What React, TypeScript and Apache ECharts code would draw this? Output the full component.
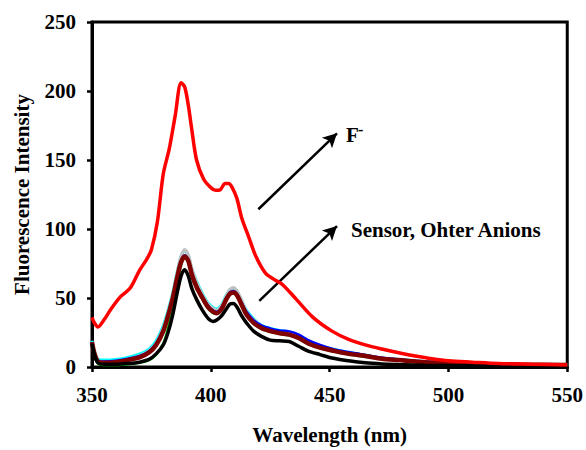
import React, { useEffect, useRef } from "react";
import * as echarts from "echarts";

const redWavelengths = [350, 351, 352.5, 355, 358, 362, 366, 370, 373, 375, 377.5, 380, 382.5, 385, 387.5, 389, 390.5, 392, 394, 397, 400, 402, 404, 406, 407.5, 409, 411, 413, 416, 419, 423, 427, 430, 436, 443, 451, 458, 465, 472, 480, 486, 493, 500, 510, 521, 535, 550];
const redValues = [36, 32, 29, 34, 42, 51, 57, 70, 78, 85, 105, 140, 158, 182, 206, 203, 190, 172, 150, 136, 130, 128, 128.5, 133, 133, 130, 122, 108, 94, 80, 68, 63, 60, 49, 36, 26, 20, 16, 13, 10, 8, 6, 4.5, 3.5, 2.5, 2, 1.5];

const wavelengths = [350, 351, 352.5, 355, 360, 365, 370, 374, 377, 380, 382, 384, 386, 387.5, 389, 390.5, 392, 394, 396.5, 399, 401, 402.5, 404.5, 406.5, 408, 409.5, 411, 413, 415, 418, 421.5, 425, 429, 433, 437, 441, 446, 451, 458, 465, 472, 479, 490, 500, 515, 530, 550];
const maroonValues = [18, 10, 4, 3, 3.5, 5, 7, 10.5, 16, 26, 37, 50, 66, 76, 80, 77, 67, 58, 50, 43, 40, 39, 42, 49, 53, 54, 52, 45, 38, 32, 28, 26, 24.5, 23.5, 21, 17, 14, 12, 9.5, 8, 6, 5, 3.5, 3, 2.2, 1.8, 1.5];
const blackValues = [17, 9, 3, 2, 2, 2.5, 3.5, 5.5, 9.5, 16, 25, 38, 55, 66, 70.5, 66, 57, 49, 41, 35, 33, 34, 37, 42, 45.5, 46, 43.5, 37, 32, 26, 22, 19.5, 19, 18.5, 15, 11.5, 9, 6.5, 4.5, 3, 2.2, 1.8, 1.3, 1, 0.9, 0.8, 0.7];
const cyanValues = [19, 11, 5.5, 5, 5.5, 7, 9.5, 13, 19, 30, 41, 54, 70, 80, 84, 81, 71, 62, 53, 46, 43, 42, 45, 52, 56, 57, 55, 48, 41, 35, 30, 28, 26.5, 25.5, 23, 19, 15.5, 13, 10.5, 8.5, 6.5, 5.5, 4, 3.2, 2.4, 2, 1.7];
const silverValues = [18, 10, 4, 3.5, 4, 5.5, 8, 11.5, 17, 28, 39, 52, 69, 80, 85, 81, 71, 61, 52, 45, 42, 41, 44, 51, 56, 57.5, 55, 48, 40, 34, 29.5, 27, 25.5, 24.5, 22, 18, 15, 12.5, 10, 8.3, 6.3, 5.2, 3.8, 3.1, 2.3, 1.9, 1.6];
const greenValues = [17, 8, 2.5, 1.5, 1.5, 2, 3, 5, 9, 17, 28, 44, 62, 74, 79, 76, 66, 57, 49, 42, 39, 38.5, 41.5, 48.5, 52.5, 53.5, 51.5, 44.5, 37.5, 31.5, 27.5, 25.5, 24, 23, 20.5, 16.5, 13.5, 11.5, 9, 7.5, 5.8, 4.8, 3.4, 2.9, 2.1, 1.7, 1.4];
const blueValues = [18, 10, 4.5, 4, 4.5, 6, 8, 11.5, 17, 27, 38, 51, 67, 77, 81, 78, 68, 59, 51, 44, 41, 40, 43, 50, 54, 55, 53, 46.5, 40, 34, 30, 28, 26.5, 25.8, 23.5, 19.5, 16, 13.3, 10.8, 8.7, 6.7, 5.6, 4, 3.3, 2.4, 2, 1.7];

const xTicks = [350, 400, 450, 500, 550];
const yTicks = [0, 50, 100, 150, 200, 250];

const arrowF = [[420, 114.3], [453.1, 169.3]];
const arrowOthers = [[420.4, 47.9], [453.1, 102.1]];
const labelFPos = [456.9, 167.9];
const labelOthersPos = [459, 99.3];

const FONT = "'Liberation Serif', 'Times New Roman', serif";

function pairs(xs: number[], ys: number[]) {
  return xs.map((x, i) => [x, ys[i]]);
}

export default function App() {
  const ref = useRef<HTMLDivElement>(null);
  useEffect(() => {
    if (!ref.current) return;
    const chart = echarts.init(ref.current, undefined, { renderer: "svg" });
    const line = (name: string, xs: number[], ys: number[], color: string, width: number, z: number) => ({
      name,
      type: "line",
      data: pairs(xs, ys),
      showSymbol: false,
      smooth: 0.3,
      z,
      lineStyle: { color, width },
      itemStyle: { color },
    });
    const arrow = (pts: number[][]) => ({
      type: "line",
      data: [],
      markLine: {
        silent: true,
        symbol: ["none", "arrow"],
        symbolSize: [11, 14],
        label: { show: false },
        lineStyle: { color: "#000", width: 2.5, type: "solid" },
        data: [[{ coord: pts[0] }, { coord: pts[1] }]],
      },
    });
    chart.setOption({
      animation: false,
      backgroundColor: "#fff",
      grid: {
        left: 92,
        right: 17,
        top: 22,
        bottom: 78,
        show: true,
        borderColor: "#000",
        borderWidth: 3,
      },
      xAxis: {
        type: "value",
        min: xTicks[0],
        max: xTicks[xTicks.length - 1],
        interval: 50,
        name: "Wavelength (nm)",
        nameLocation: "middle",
        nameGap: 57,
        nameTextStyle: { fontFamily: FONT, fontWeight: "bold", fontSize: 21, color: "#000" },
        axisLine: { lineStyle: { color: "#000", width: 3 } },
        axisTick: { show: true, length: 5, lineStyle: { color: "#000", width: 2.5 } },
        axisLabel: { fontFamily: FONT, fontWeight: "bold", fontSize: 21, color: "#000", margin: 17 },
        splitLine: { show: false },
      },
      yAxis: {
        type: "value",
        min: yTicks[0],
        max: yTicks[yTicks.length - 1],
        interval: 50,
        name: "Fluorescence Intensity",
        nameLocation: "middle",
        nameGap: 60,
        nameTextStyle: { fontFamily: FONT, fontWeight: "bold", fontSize: 21, color: "#000" },
        axisLine: { lineStyle: { color: "#000", width: 3 } },
        axisTick: { show: true, length: 5, lineStyle: { color: "#000", width: 2.5 } },
        axisLabel: { fontFamily: FONT, fontWeight: "bold", fontSize: 21, color: "#000", margin: 16 },
        splitLine: { show: false },
      },
      series: [
        line("Cyan", wavelengths, cyanValues, "#00ffff", 3, 2),
        line("Silver", wavelengths, silverValues, "#c0c0c0", 3.5, 3),
        line("Blue", wavelengths, blueValues, "#0000ff", 2.5, 4),
        line("Green", wavelengths, greenValues, "#00dd00", 2.5, 5),
        line("Sensor", wavelengths, maroonValues, "#800000", 4.5, 6),
        line("Black", wavelengths, blackValues, "#000000", 3.5, 7),
        line("F-", redWavelengths, redValues, "#ff0000", 3.5, 8),
        arrow(arrowF),
        arrow(arrowOthers),
      ],
    });
    const pF = chart.convertToPixel({ gridIndex: 0 }, labelFPos) as number[];
    const pO = chart.convertToPixel({ gridIndex: 0 }, labelOthersPos) as number[];
    const ts = { fontFamily: FONT, fontWeight: "bold", fontSize: 21, fill: "#000" };
    chart.setOption({
      graphic: [
        { type: "text", x: pF[0], y: pF[1], style: { ...ts, text: "F", verticalAlign: "middle" } },
        { type: "text", x: pF[0] + 12, y: pF[1] - 6, style: { ...ts, fontSize: 16, text: "-", verticalAlign: "middle" } },
        { type: "text", x: pO[0], y: pO[1], style: { ...ts, text: "Sensor, Ohter Anions", verticalAlign: "middle" } },
      ],
    });
    return () => chart.dispose();
  }, []);
  return <div ref={ref} style={{ position: "fixed", left: 0, top: 0, width: 586, height: 450 }} />;
}
